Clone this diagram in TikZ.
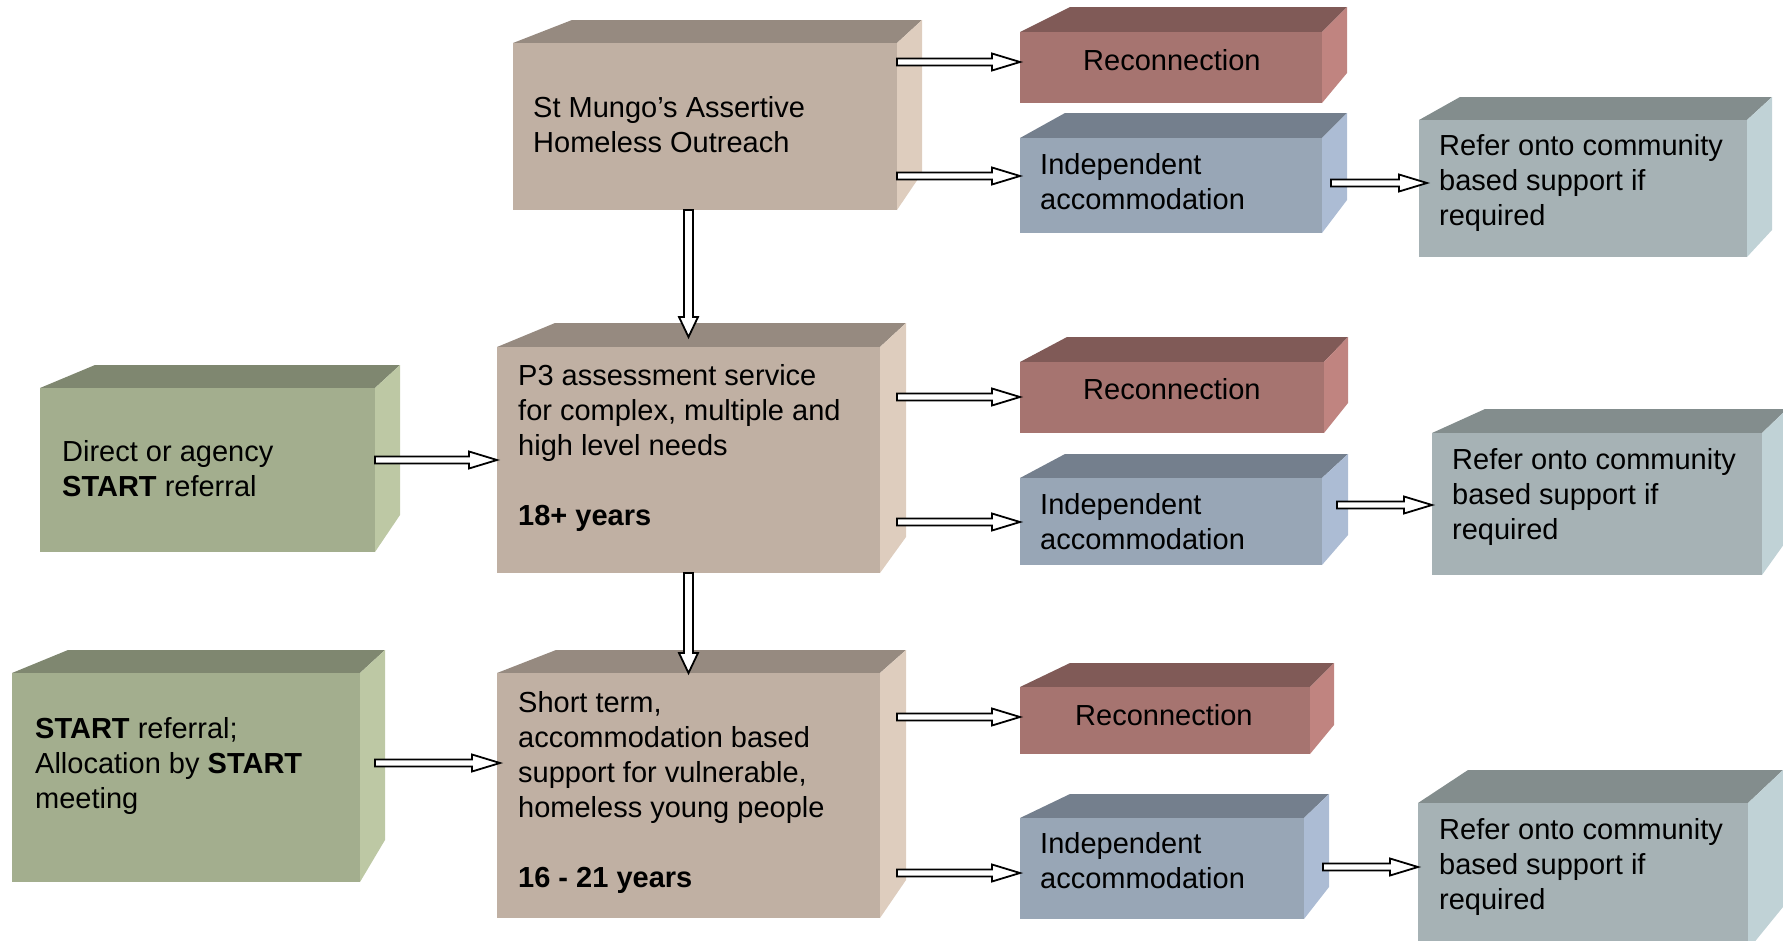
\documentclass[tikz,border=0pt]{standalone}
\usepackage{fontspec}
\setmainfont{Liberation Sans}
\usetikzlibrary{calc,fit}

\definecolor{tanF}{HTML}{C0B0A3}\definecolor{tanT}{HTML}{968A80}\definecolor{tanS}{HTML}{DECDBE}
\definecolor{redF}{HTML}{A67470}\definecolor{redT}{HTML}{805A57}\definecolor{redS}{HTML}{C08480}
\definecolor{bluF}{HTML}{98A6B6}\definecolor{bluT}{HTML}{747F8D}\definecolor{bluS}{HTML}{ACBCD4}
\definecolor{tealF}{HTML}{A6B2B5}\definecolor{tealT}{HTML}{838D8D}\definecolor{tealS}{HTML}{C0D2D6}
\definecolor{grnF}{HTML}{A3AE8E}\definecolor{grnT}{HTML}{7F8770}\definecolor{grnS}{HTML}{BDC8A4}

% anchor: baseline of the LAST line of the text block
\tikzset{
  boxtext/.style={anchor=base west, inner sep=0pt, align=left, font=\fontsize{29}{35}\selectfont},
  blockarrow/.style={draw=black, fill=white, line width=1.8pt, line join=miter},
  frontface/.style={inner sep=0pt, outer sep=0pt, fill=#1},
}

% horizontal block arrow: from, to, y, start shift, end shift
\newcommand\hblock[5]{%
  \draw[blockarrow] let \p1=($(#1.east |- 0,#3)+(#4,0)$), \p2=($(#2.west |- 0,#3)+(#5,0)$) in
    (\x1,\y1+3.5pt) -- (\x2-28pt,\y1+3.5pt) -- (\x2-28pt,\y1+8.5pt) -- (\x2,\y1)
    -- (\x2-28pt,\y1-8.5pt) -- (\x2-28pt,\y1-3.5pt) -- (\x1,\y1-3.5pt) -- cycle;}
% vertical block arrow: from, to, tip shift
\newcommand\vblock[3]{%
  \draw[blockarrow] let \p1=(#1.south -| #2.north), \p2=($(#2.north)+(0,#3)$) in
    (\x1-4.5pt,\y1) -- (\x1-4.5pt,\y2+20pt) -- (\x1-9.5pt,\y2+20pt) -- (\x1,\y2)
    -- (\x1+9.5pt,\y2+20pt) -- (\x1+4.5pt,\y2+20pt) -- (\x1+4.5pt,\y1) -- cycle;}

\begin{document}
\begin{tikzpicture}[x=1pt,y=-1pt]
\useasboundingbox (0,0) rectangle (1783,940);
\clip (0,0) rectangle (1783,940);

\foreach \n/\c/\xa/\ya/\xb/\yb/\bl/\by/\br/\sb in {
  mungo/tan/513/43/897/210/572/20/922/173,
  p3/tan/497/347/880/573/555/323/906/537,
  short/tan/497/673/880/918/556/650/906/880,
  green1/grn/40/388/375/552/95/365/400/515,
  green2/grn/12/673/360/882/68/650/385/840,
  recon1/red/1020/32/1322/103/1070/7/1347/73,
  indep1/blu/1020/138/1322/233/1065/113/1347/200,
  refer1/teal/1419/120/1747/257/1460/97/1772/230,
  recon2/red/1020/362/1324/433/1067/337/1348/403,
  indep2/blu/1020/478/1322/565/1065/454/1348/535,
  refer2/teal/1432/433/1762/575/1485/409/1787/540,
  recon3/red/1020/687/1310/754/1070/663/1334/725,
  indep3/blu/1020/818/1304/919/1070/794/1329/887,
  refer3/teal/1418/803/1748/950/1468/770/1783/907}{
  \fill[fill=\c T] (\xa,\ya) -- (\bl,\by) -- (\br,\by) -- (\xb,\ya) -- cycle;
  \fill[fill=\c S] (\xb,\ya) -- (\br,\by) -- (\br,\sb) -- (\xb,\yb) -- cycle;
  \node[frontface=\c F, fit={(\xa,\ya)(\xb,\yb)}] (\n) {};
}

% texts (positioned at the baseline of their last line)
\node[boxtext] (mungo-t) at (533,152) {St Mungo’s Assertive\\Homeless Outreach};
\node[boxtext] (p3-t) at (518,525) {P3 assessment service\\for complex, multiple and\\high level needs\\[35pt]\textbf{18+ years}};
\node[boxtext] (short-t) at (518,887) {Short term,\\accommodation based\\support for vulnerable,\\homeless young people\\[35pt]\textbf{16 - 21 years}};
\node[boxtext] (green1-t) at (62,496) {Direct or agency\\\textbf{START} referral};
\node[boxtext] (green2-t) at (35,808) {\textbf{START} referral;\\Allocation by \textbf{START}\\meeting};
\node[boxtext] (recon1-t) at (1083,70) {Reconnection};
\node[boxtext] (recon2-t) at (1083,399) {Reconnection};
\node[boxtext] (recon3-t) at (1075,725) {Reconnection};
\node[boxtext] (indep1-t) at (1040,209) {Independent\\accommodation};
\node[boxtext] (indep2-t) at (1040,549) {Independent\\accommodation};
\node[boxtext] (indep3-t) at (1040,888) {Independent\\accommodation};
\node[boxtext] (refer1-t) at (1439,225) {Refer onto community\\based support if\\required};
\node[boxtext] (refer2-t) at (1452,539) {Refer onto community\\based support if\\required};
\node[boxtext] (refer3-t) at (1439,909) {Refer onto community\\based support if\\required};

% connectors
\hblock{mungo}{recon1}{62}{0}{0}
\hblock{mungo}{indep1}{176}{0}{0}
\hblock{indep1}{refer1}{183}{9}{8}
\vblock{mungo}{p3}{-10}
\hblock{p3}{recon2}{397}{17}{0}
\hblock{p3}{indep2}{522}{17}{0}
\hblock{indep2}{refer2}{505}{15}{0}
\hblock{green1}{p3}{460}{0}{0}
\vblock{p3}{short}{0}
\hblock{green2}{short}{763}{15}{3}
\hblock{short}{recon3}{717}{17}{0}
\hblock{short}{indep3}{873}{17}{0}
\hblock{indep3}{refer3}{867}{19}{0}
\end{tikzpicture}
\end{document}
